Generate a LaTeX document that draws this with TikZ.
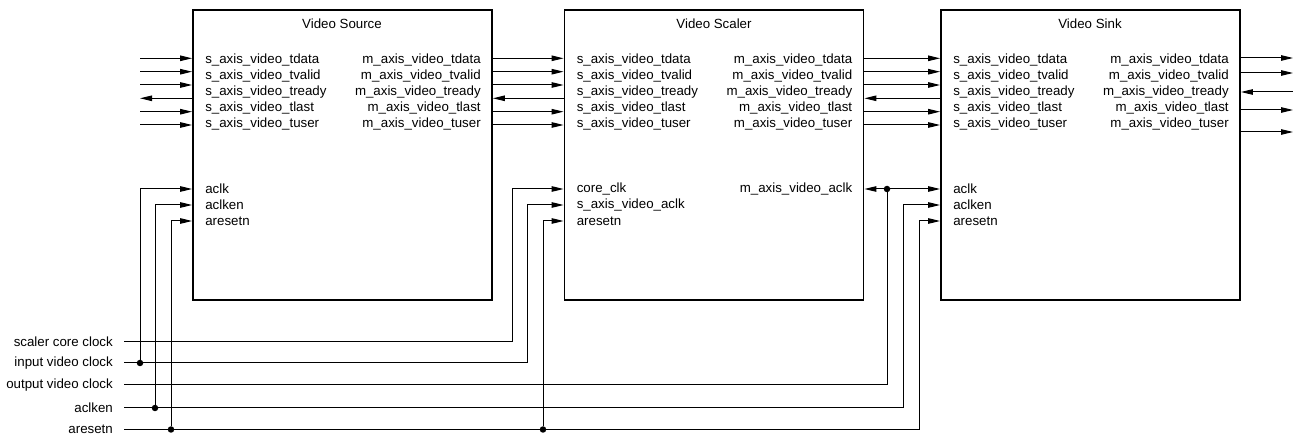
\documentclass[tikz,border=0pt]{standalone}
\usepackage{fontspec}
\setmainfont{Liberation Sans}
\usetikzlibrary{arrows.meta, positioning}

\begin{document}
\begin{tikzpicture}[x=1pt, y=-1pt,
    block/.style={draw, line width=1.8pt, minimum width=299pt, minimum height=290pt, inner sep=0pt},
    txt/.style={font=\fontsize{13.3}{15}\selectfont, inner sep=0pt},
    wire/.style={line width=1pt},
    fwd/.style={wire, -{Triangle[length=12pt,width=5.5pt]}},
    bwd/.style={wire, {Triangle[length=12pt,width=5.5pt]}-},
    junction/.style={circle, fill, inner sep=0pt, minimum size=6.5pt}
]
    \useasboundingbox (0,0) rectangle (1296,435);

    % the three blocks
    \node[block] (src) at (342.5,155) {};
    \node[block] (scl) at (714,155) {};
    \node[block] (snk) at (1090.5,155) {};
    \node[txt] (tsrc) at (342,24) {Video Source};
    \node[txt] (tscl) at (714,24) {Video Scaler};
    \node[txt] (tsnk) at (1090,24) {Video Sink};

    % AXI4-Stream ports
    \foreach \b in {src,scl,snk} {
        \foreach \n/\y in {tdata/60,tvalid/76,tready/92,tlast/108,tuser/124} {
            \node[txt, anchor=west, xshift=13pt] (\b-s\n) at (\b.west |- 0,\y) {s\_axis\_video\_\n};
            \node[txt, anchor=east, xshift=-12pt] (\b-m\n) at (\b.east |- 0,\y) {m\_axis\_video\_\n};
        }
    }

    % stream wires
    \foreach \y/\s [count=\i] in {58.3/fwd,71.7/fwd,85/fwd,98.3/bwd,111.7/fwd,125/fwd} {
        \coordinate (in\i) at (140,\y);
        \draw[\s] (in\i) -- (src.west |- in\i);
        \draw[\s] (src.east |- in\i) -- (scl.west |- in\i);
        \draw[\s] (scl.east |- in\i) -- (snk.west |- in\i);
    }
    \foreach \y/\s [count=\i] in {58/fwd,73/fwd,92/bwd,110/fwd,132/fwd} {
        \coordinate (out\i) at (1293,\y);
        \draw[\s] (snk.east |- out\i) -- (out\i);
    }

    % clock and reset pins
    \coordinate (kclk) at (0,189);
    \coordinate (kena) at (0,205);
    \coordinate (krst) at (0,221);
    \node[txt, anchor=west, xshift=13pt] (src-clk) at (src.west |- kclk) {aclk};
    \node[txt, anchor=west, xshift=13pt] (src-ena) at (src.west |- kena) {aclken};
    \node[txt, anchor=west, xshift=13pt] (src-rst) at (src.west |- krst) {aresetn};
    \node[txt, anchor=west, xshift=13pt] (scl-clk) at (scl.west |- kclk) {core\_clk};
    \node[txt, anchor=west, xshift=13pt] (scl-sclk) at (scl.west |- kena) {s\_axis\_video\_aclk};
    \node[txt, anchor=west, xshift=13pt] (scl-rst) at (scl.west |- krst) {aresetn};
    \node[txt, anchor=east, xshift=-12pt] (scl-mclk) at (scl.east |- kclk) {m\_axis\_video\_aclk};
    \node[txt, anchor=west, xshift=13pt] (snk-clk) at (snk.west |- kclk) {aclk};
    \node[txt, anchor=west, xshift=13pt] (snk-ena) at (snk.west |- kena) {aclken};
    \node[txt, anchor=west, xshift=13pt] (snk-rst) at (snk.west |- krst) {aresetn};

    % system signals
    \node[txt, anchor=east] (lsc) at (113,342) {scaler core clock};
    \node[txt, anchor=east] (liv) at (113,363) {input video clock};
    \node[txt, anchor=east] (lov) at (113,385) {output video clock};
    \node[txt, anchor=east] (lce) at (113,408) {aclken};
    \node[txt, anchor=east] (lrs) at (113,429.5) {aresetn};

    \coordinate (c1) at (140,0);
    \coordinate (c2) at (155,0);
    \coordinate (c3) at (171,0);
    \coordinate (c4) at (512,0);
    \coordinate (c5) at (527,0);
    \coordinate (c6) at (543,0);
    \coordinate (c7) at (887,0);
    \coordinate (c8) at (903,0);
    \coordinate (c9) at (919,0);

    \draw[fwd] ([xshift=11pt]lsc.east) -| (c4 |- kclk) -- (scl.west |- kclk);
    \draw[fwd] ([xshift=11pt]liv.east) -| (c5 |- kena) -- (scl.west |- kena);
    \draw[wire] ([xshift=11pt]lov.east) -| (c7 |- kclk);
    \draw[fwd] ([xshift=11pt]lce.east) -| (c8 |- kena) -- (snk.west |- kena);
    \draw[fwd] ([xshift=11pt]lrs.east) -| (c9 |- krst) -- (snk.west |- krst);

    \node[junction] (j1) at (c1 |- liv.east) {};
    \node[junction] (j2) at (c2 |- lce.east) {};
    \node[junction] (j3) at (c3 |- lrs.east) {};
    \node[junction] (j4) at (c7 |- kclk) {};
    \node[junction] (j5) at (c6 |- lrs.east) {};
    \draw[fwd] (j1) |- (src.west |- kclk);
    \draw[fwd] (j2) |- (src.west |- kena);
    \draw[fwd] (j3) |- (src.west |- krst);
    \draw[fwd] (j5) |- (scl.west |- krst);
    \draw[fwd] (j4) -- (scl.east |- kclk);
    \draw[fwd] (j4) -- (snk.west |- kclk);
\end{tikzpicture}
\end{document}
